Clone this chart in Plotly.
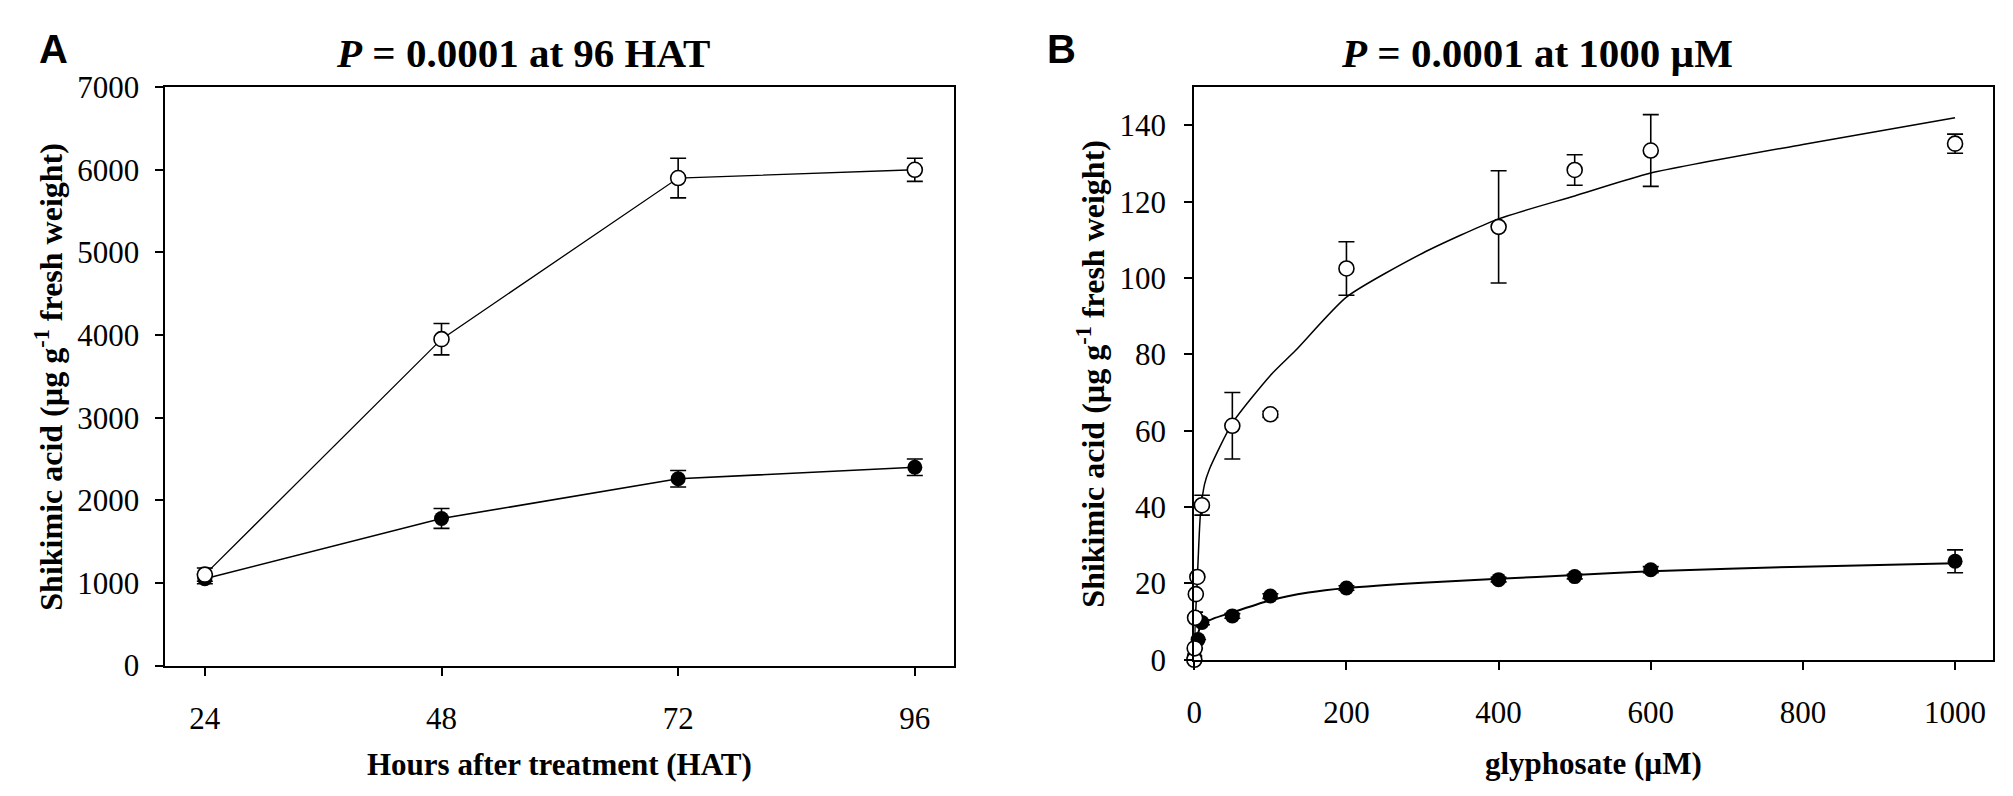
import plotly.graph_objects as go

# panel A: time course
hours = [24, 48, 72, 96]
open_a = [1100, 3950, 5900, 6000]
open_a_err = [80, 190, 240, 140]
filled_a = [1050, 1780, 2260, 2400]
filled_a_err = [60, 120, 100, 100]

# panel B: dose response
conc_open = [0, 0.5, 1, 2, 4, 10, 50, 100, 200, 400, 500, 600, 1000]
open_b = [0, 3, 11, 17.2, 21.7, 40.5, 61.3, 64.3, 102.5, 113.4, 128.3, 133.4, 135.2]
open_b_err = [0, 0, 1.5, 0, 0, 2.6, 8.7, 0.8, 7, 14.7, 4, 9.4, 2.5]
conc_filled = [0, 1, 5, 10, 50, 100, 200, 400, 500, 600, 1000]
filled_b = [1, 3, 5.3, 9.8, 11.5, 16.7, 18.8, 21, 21.8, 23.6, 25.8]
filled_b_err = [0, 0, 0, 0.6, 0.6, 0.6, 0.6, 0.6, 0.6, 0.8, 3]

# fitted curves
fit_open_x = [0, 1, 3.5, 5, 8, 13.5, 20, 50, 100, 133, 200, 300, 400, 500, 600, 800, 1000]
fit_open_y = [0, 9, 19, 26, 38, 46, 50, 62, 74.5, 81, 95, 106.5, 115.5, 121.5, 127.5, 135, 142]
fit_filled_x = [2, 5, 10, 25, 50, 100, 150, 200, 300, 400, 500, 600, 800, 1000]
fit_filled_y = [4, 7, 9.3, 10.8, 12.4, 15.6, 17.6, 18.8, 20.2, 21.2, 22.2, 23.2, 24.4, 25.3]

W, H = 2013, 796
serif = "Liberation Serif"
black = "black"


def px(x):
    return x / W


def py(y):
    return 1 - y / H


def err(vals):
    return dict(type="data", array=vals, visible=True, color=black, thickness=1.6, width=8)


fig = go.Figure()

# panel A
fig.add_trace(go.Scatter(x=hours, y=filled_a, mode="lines+markers", error_y=err(filled_a_err),
                         line=dict(color=black, width=1.6),
                         marker=dict(symbol="circle", size=15, color=black),
                         cliponaxis=False, xaxis="x", yaxis="y"))
fig.add_trace(go.Scatter(x=hours, y=open_a, mode="lines+markers", error_y=err(open_a_err),
                         line=dict(color=black, width=1.3),
                         marker=dict(symbol="circle", size=15, color="white",
                                     line=dict(color=black, width=1.6)),
                         cliponaxis=False, xaxis="x", yaxis="y"))

# panel B
fig.add_trace(go.Scatter(x=fit_open_x, y=fit_open_y, mode="lines",
                         line=dict(color=black, width=1.5, shape="spline", smoothing=0.6),
                         xaxis="x2", yaxis="y2"))
fig.add_trace(go.Scatter(x=fit_filled_x, y=fit_filled_y, mode="lines",
                         line=dict(color=black, width=2, shape="spline", smoothing=0.6),
                         xaxis="x2", yaxis="y2"))
fig.add_trace(go.Scatter(x=conc_filled, y=filled_b, mode="markers", error_y=err(filled_b_err),
                         marker=dict(symbol="circle", size=15, color=black),
                         cliponaxis=False, xaxis="x2", yaxis="y2"))
fig.add_trace(go.Scatter(x=conc_open, y=open_b, mode="markers", error_y=err(open_b_err),
                         marker=dict(symbol="circle", size=15, color="white",
                                     line=dict(color=black, width=1.6)),
                         cliponaxis=False, xaxis="x2", yaxis="y2"))

axis_style = dict(showline=True, mirror=True, linecolor=black, linewidth=2,
                  ticks="outside", ticklen=8, tickwidth=2, tickcolor=black,
                  showgrid=False, zeroline=False,
                  tickfont=dict(family=serif, size=31, color=black))

fig.update_layout(
    width=W, height=H,
    margin=dict(l=0, r=0, t=0, b=0),
    paper_bgcolor="white", plot_bgcolor="white",
    showlegend=False,
    xaxis=dict(domain=[px(150), px(942)], range=[20, 100], tickvals=hours,
               ticklabelstandoff=16, anchor="y", **axis_style),
    yaxis=dict(domain=[py(670), py(65)], range=[0, 7000], dtick=1000,
               ticklabelstandoff=10, anchor="x", **axis_style),
    xaxis2=dict(domain=[px(1183), px(1985)], range=[0, 1050], tickvals=[0, 200, 400, 600, 800, 1000],
                ticklabelstandoff=16, anchor="y2", **axis_style),
    yaxis2=dict(domain=[py(664), py(65)], range=[0, 150], tickvals=[0, 20, 40, 60, 80, 100, 120, 140],
                ticklabelstandoff=12, anchor="x2", **axis_style),
)

title_font = dict(family=serif, size=41, color=black)
xlabel_font = dict(family=serif, size=31, color=black)
ylabel_font = dict(family=serif, size=32, color=black)
panel_font = dict(family="Liberation Sans", size=40, color=black)

notes = [
    dict(x=px(38), y=py(25), text="<b>A</b>", font=panel_font),
    dict(x=px(1050), y=py(25), text="<b>B</b>", font=panel_font),
    dict(x=px(509), y=py(29), text="<b><i>P</i> = 0.0001 at 96 HAT</b>", font=title_font),
    dict(x=px(1527), y=py(29), text="<b><i>P</i> = 0.0001 at 1000 µM</b>", font=title_font),
    dict(x=px(546), y=py(774), text="<b>Hours after treatment (HAT)</b>", font=xlabel_font),
    dict(x=px(1584), y=py(772), text="<b>glyphosate (µM)</b>", font=xlabel_font),
    dict(x=px(33), y=py(368), text="<b>Shikimic acid (µg g<sup>-1</sup> fresh weight)</b>",
         font=ylabel_font, textangle=-90),
    dict(x=px(1079), y=py(365), text="<b>Shikimic acid (µg g<sup>-1</sup> fresh weight)</b>",
         font=ylabel_font, textangle=-90),
]
for n in notes:
    fig.add_annotation(xref="paper", yref="paper", showarrow=False,
                       xanchor="center", yanchor="middle", **n)

fig.write_html("out.html")
